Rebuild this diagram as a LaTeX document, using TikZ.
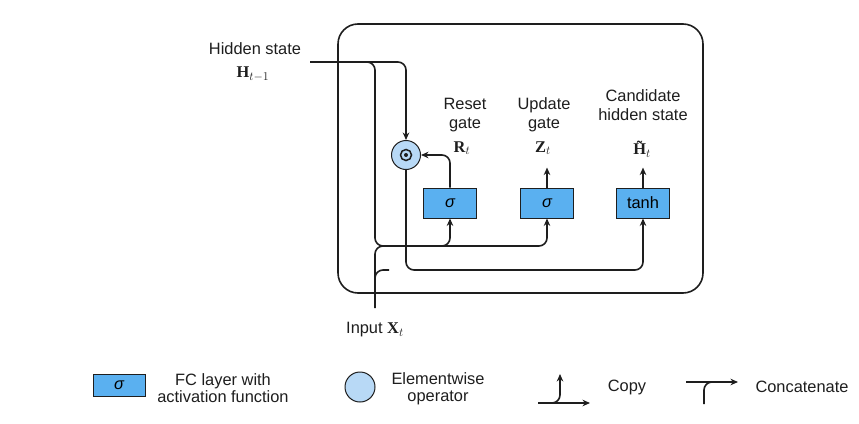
\documentclass[tikz,border=0pt]{standalone}
\usepackage[no-math]{fontspec}
\setmainfont{Liberation Sans}
\newfontfamily\tsb{Liberation Serif}
\usetikzlibrary{arrows.meta}
\definecolor{fcblue}{RGB}{90,176,240}
\definecolor{opblue}{RGB}{184,217,246}
\definecolor{ink}{RGB}{30,30,30}
\newcommand\bvec[1]{\mbox{\tsb\bfseries #1}}
\begin{document}
\begin{tikzpicture}[x=1pt,y=-1pt,
  line/.style={draw=ink, line width=1.6pt, rounded corners=8pt},
  arr/.style={line, -{Stealth[length=7.5pt,width=6.5pt]}},
  fc/.style={draw=ink, line width=0.9pt, fill=fcblue, minimum width=53pt, minimum height=30pt, inner sep=0pt, font=\fontsize{16.4}{19}\selectfont},
  op/.style={circle, draw=ink, line width=1pt, fill=opblue, minimum size=29pt, inner sep=0pt},
  lbl/.style={font=\fontsize{16.4}{18.5}\selectfont, align=center, inner sep=0pt, text=ink},
  leg/.style={font=\fontsize{16.4}{17.5}\selectfont, align=center, inner sep=0pt, text=ink}
]
\useasboundingbox (0,0) rectangle (859,423);
\fill[white] (0,0) rectangle (859,423);
\draw[draw=ink, line width=1.6pt, rounded corners=20pt] (338,24) rectangle (703,293);

% gates
\node[fc] (r) at (450,203) {\itshape σ};
\node[fc] (z) at (547,203) {\itshape σ};
\node[fc] (h) at (643,203) {tanh};
\node[op] (o) at (406,155) {};
\draw[ink, line width=1.5pt] (o.center) circle (5.5pt);
\fill[ink] (o.center) circle (2pt);

% labels
\node[lbl] (rl) at (465,115) {Reset\\gate};
\node[lbl] (rm) at (462,148) {$\bvec{R}_t$};
\node[lbl] (zl) at (544,115) {Update\\gate};
\node[lbl] (zm) at (543,148) {$\bvec{Z}_t$};
\node[lbl] (hl) at (643,105) {Candidate\\hidden state};
\node[lbl] (hm) at (642,149) {$\bvec{H̃}_t$};
\node[lbl] (hsl) at (255,49) {Hidden state};
\node[lbl] (hsm) at (253,74) {$\bvec{H}_{t-1}$};
\node[lbl] (inl) at (375,330) {Input $\bvec{X}_t$};

% coordinates
\coordinate (hin) at (310,62);
\coordinate (hb) at (375,62);
\coordinate (xin) at (375,308);
\coordinate (c1) at (375,246);
\coordinate (c2) at (375,270);

% connectors
\draw[arr] (hin) -- (o.north |- hin) -- (o.north);
\draw[arr] ([xshift=-12pt]hb) -- (hb) -- (c1) -- (c1 -| z.south) -- (z.south);
\draw[arr] ([xshift=-12pt]c1 -| r.south) -- (c1 -| r.south) -- (r.south);
\draw[line] (xin) -- (c1) -- ([xshift=14pt]c1);
\draw[line] ([yshift=-16pt]c2) -- (c2) -- ([xshift=14pt]c2);
\draw[arr] (o.south) -- (o.south |- c2) -- (c2 -| h.south) -- (h.south);
\draw[arr] (r.north) -- (r.north |- o.east) -- (o.east);
\draw[arr] (z.north) -- ([yshift=20pt]z.north);
\draw[arr] (h.north) -- ([yshift=20pt]h.north);

% legend
\node[fc, minimum width=52pt, minimum height=22pt] (lfc) at (119,385) {\itshape σ};
\node[leg] (lfct) at (223,388) {FC layer with\\activation function};
\node[op, minimum size=30pt] (lop) at (360,387) {};
\node[leg] (lopt) at (438,389) {Elementwise\\operator};
\coordinate (cpa) at (538,403);
\coordinate (cpb) at (590,403);
\coordinate (cpc) at (560,403);
\draw[arr] (cpa) -- (cpb);
\draw[arr] ([xshift=-12pt]cpc) -- (cpc) -- ([yshift=29pt]cpc);
\node[leg] (cpt) at (627,387) {Copy};
\coordinate (cca) at (686,382);
\coordinate (ccb) at (738,382);
\coordinate (ccc) at (704,382);
\draw[arr] (cca) -- (ccb);
\draw[line] ([yshift=-22pt]ccc) -- (ccc) -- ([xshift=12pt]ccc);
\node[leg] (cct) at (802,387) {Concatenate};
\end{tikzpicture}
\end{document}
